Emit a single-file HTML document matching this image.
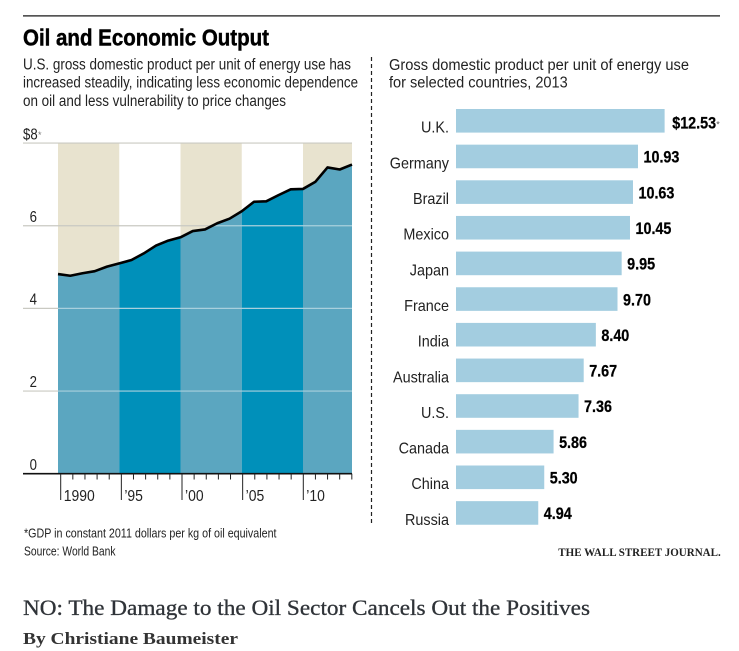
<!DOCTYPE html>
<html lang="en">
<head>
<meta charset="utf-8">
<title>Oil and Economic Output</title>
<style>
html,body{margin:0;padding:0;background:#fff;width:739px;height:651px;overflow:hidden}
svg{display:block}
text{font-family:"Liberation Sans",Arial,sans-serif;fill:#222}
.serif{font-family:"Liberation Serif","Times New Roman",serif}
</style>
</head>
<body>
<svg id="chart" xmlns="http://www.w3.org/2000/svg" width="739" height="651" viewBox="0 0 739 651">
  <rect x="0" y="0" width="739" height="651" fill="#fff"/>
  <rect x="23" y="15" width="697" height="1.7" fill="#555"/>
  <text x="23" y="45.5" font-size="23" font-weight="bold" style="fill:#000;stroke:#000;stroke-width:.45" textLength="246" lengthAdjust="spacingAndGlyphs">Oil and Economic Output</text>
  <text x="23" y="69.5" font-size="15.5" textLength="328" lengthAdjust="spacingAndGlyphs">U.S. gross domestic product per unit of energy use has</text>
  <text x="23" y="87.5" font-size="15.5" textLength="335" lengthAdjust="spacingAndGlyphs">increased steadily, indicating less economic dependence</text>
  <text x="23" y="106" font-size="15.5" textLength="263" lengthAdjust="spacingAndGlyphs">on oil and less vulnerability to price changes</text>

  <g id="area-chart"></g>
  <g id="y-labels"></g>
  <g id="x-axis"></g>

  <text x="24" y="537.7" font-size="12.5" textLength="252.5" lengthAdjust="spacingAndGlyphs">*GDP in constant 2011 dollars per kg of oil equivalent</text>
  <text x="24" y="555.7" font-size="12.5" textLength="91.5" lengthAdjust="spacingAndGlyphs">Source: World Bank</text>

  <line x1="371.5" y1="57" x2="371.5" y2="524" stroke="#222" stroke-width="1.2" stroke-dasharray="4 3"/>

  <text x="389" y="70" font-size="15.5" textLength="300" lengthAdjust="spacingAndGlyphs">Gross domestic product per unit of energy use</text>
  <text x="389" y="87.7" font-size="15.5" textLength="178.7" lengthAdjust="spacingAndGlyphs">for selected countries, 2013</text>

  <g id="bar-chart"></g>

  <text class="serif" x="558.3" y="556" font-size="11.5" font-weight="bold" textLength="162.4" lengthAdjust="spacingAndGlyphs">THE WALL STREET JOURNAL.</text>
  <text class="serif" x="23" y="615" font-size="22.5" style="fill:#2f3338;stroke:#2f3338;stroke-width:.3" textLength="567" lengthAdjust="spacingAndGlyphs">NO: The Damage to the Oil Sector Cancels Out the Positives</text>
  <text class="serif" x="23" y="644" font-size="17" font-weight="bold" style="fill:#333" textLength="215" lengthAdjust="spacingAndGlyphs">By Christiane Baumeister</text>
</svg>
<script>
var gdpYears = [1990,1991,1992,1993,1994,1995,1996,1997,1998,1999,2000,2001,2002,2003,2004,2005,2006,2007,2008,2009,2010,2011,2012,2013,2014];
var gdpValues = [4.83,4.79,4.85,4.90,5.01,5.09,5.17,5.33,5.52,5.64,5.72,5.87,5.91,6.06,6.17,6.35,6.58,6.59,6.74,6.88,6.89,7.06,7.41,7.36,7.48];
var yTicks = [0,2,4,6,8];
var yTickLabels = ['0','2','4','6','$8'];
var bandYears = [1990,1995,2000,2005,2010,2014];
var xMajorYears = [1990,1995,2000,2005,2010];
var xMajorLabels = ['1990','\u201995','\u201900','\u201905','\u201910'];
var countries = ['U.K.','Germany','Brazil','Mexico','Japan','France','India','Australia','U.S.','Canada','China','Russia'];
var countryValues = [12.53,10.93,10.63,10.45,9.95,9.70,8.40,7.67,7.36,5.86,5.30,4.94];

var NS = 'http://www.w3.org/2000/svg';
function make(parent, tag, attrs) {
  var el = document.createElementNS(NS, tag);
  for (var k in attrs) { el.setAttribute(k, attrs[k]); }
  parent.appendChild(el);
  return el;
}
function xScale(year) { return 58 + (year - 1990) * 12.25; }
function yScale(v) { return 473.7 - v * 41.33; }
function tickX(year) { return 60.7 + (year - 1990) * 12.13; }

var area = document.getElementById('area-chart');
var defs = make(area, 'defs', {});
var clip = make(defs, 'clipPath', { id: 'under-line' });
var pts = gdpYears.map(function (yr, i) { return xScale(yr) + ',' + yScale(gdpValues[i]); });
var lastX = xScale(gdpYears[gdpYears.length - 1]);
var firstX = xScale(gdpYears[0]);
make(clip, 'polygon', { points: firstX + ',' + yScale(0) + ' ' + pts.join(' ') + ' ' + lastX + ',' + yScale(0) });

// Background and filled period bands
for (var b = 0; b < bandYears.length - 1; b++) {
  var bx = xScale(bandYears[b]);
  var bw = xScale(bandYears[b + 1]) - bx;
  if (b % 2 === 0) {
    var bg = make(area, 'rect', { x: bx, y: yScale(8), width: bw, height: yScale(0) - yScale(8), fill: '#e8e3cf' });
    
    
  }
}

// Gridlines behind the area
yTicks.forEach(function (t) {
  if (t === 0) { return; }
  var g = make(area, 'line', { x1: 23, x2: lastX, y1: yScale(t), y2: yScale(t), stroke: '#c9c9c2', 'stroke-width': 1.2 });
  
  
});

var filled = make(area, 'g', { 'clip-path': 'url(#under-line)' });


for (var c = 0; c < bandYears.length - 1; c++) {
  var cx = xScale(bandYears[c]);
  var cw = xScale(bandYears[c + 1]) - cx;
  var band = make(filled, 'rect', { x: cx, y: yScale(8), width: cw, height: yScale(0) - yScale(8), fill: c % 2 === 0 ? '#5ba6c0' : '#0090ba' });
  
  
}
yTicks.forEach(function (t) {
  if (t === 0 || t === 8) { return; }
  var g = make(filled, 'line', { x1: firstX, x2: lastX, y1: yScale(t), y2: yScale(t), stroke: '#a9d0dd', 'stroke-width': 1.2 });
  
  
});

var line = make(area, 'polyline', { points: pts.join(' '), fill: 'none', stroke: '#000', 'stroke-width': 2.6, 'stroke-linejoin': 'round' });



// Y labels
var yLabelGroup = document.getElementById('y-labels');
yTicks.forEach(function (t, i) {
  var lab = make(yLabelGroup, 'text', { 'font-size': 15.5, 'text-anchor': t === 8 ? 'start' : 'end', transform: 'translate(' + (t === 8 ? 23 : 37) + ' ' + (yScale(t) - 3.8) + ') scale(.85 1)' });
  
  
  lab.textContent = yTickLabels[i];
  if (t === 8) {
    var star = make(yLabelGroup, 'text', { x: 38, y: yScale(t) - 5, 'font-size': 9, style: 'fill:#777' });
    
    
    star.textContent = '*';
  }
});

// X axis
var xAxis = document.getElementById('x-axis');
var axisLine = make(xAxis, 'line', { x1: 23, x2: 352, y1: yScale(0), y2: yScale(0), stroke: '#111', 'stroke-width': 1.6 });


for (var yr = 1990; yr <= 2014; yr++) {
  var major = xMajorYears.indexOf(yr) >= 0;
  var tk = make(xAxis, 'line', { x1: tickX(yr), x2: tickX(yr), y1: yScale(0), y2: major ? 500 : 479.5, stroke: '#222', 'stroke-width': 1 });
  
  
}
xMajorYears.forEach(function (yr, i) {
  var lab = make(xAxis, 'text', { x: tickX(yr) + 3, y: 501, 'font-size': 15.5, transform: 'translate(' + (tickX(yr) + 3) + ' 0) scale(.9 1) translate(' + (-(tickX(yr) + 3)) + ' 0)' });
  
  
  lab.textContent = xMajorLabels[i];
});

// Bars
var barGroup = document.getElementById('bar-chart');
function barX(v) { return 456 + v * 16.65; }
function barTop(i) { return 109 + i * 35.65; }
countries.forEach(function (name, i) {
  var v = countryValues[i];
  var bar = make(barGroup, 'rect', { x: barX(0), y: barTop(i), width: barX(v) - barX(0), height: 23.6, fill: '#a3cde0' });
  
  

  var labelY = barTop(i) + 23.7;
  var lab = make(barGroup, 'text', { 'font-size': 16, 'text-anchor': 'end', transform: 'translate(449 ' + labelY + ') scale(.9 1)' });
  
  
  lab.textContent = name;

  var valX = barX(v) + (i === 0 ? 7.6 : 5.5);
  var valY = barTop(i) + (i === 0 ? 19.3 : 18);
  var val = make(barGroup, 'text', { 'font-size': 16.5, 'font-weight': 'bold', style: 'fill:#000;stroke:#000;stroke-width:.25', transform: 'translate(' + valX + ' ' + valY + ') scale(.87 1)' });
  
  
  val.textContent = (i === 0 ? '$' : '') + v.toFixed(2);

  if (i === 0) {
    var st = make(barGroup, 'text', { x: valX + 44, y: valY - 1, 'font-size': 9, style: 'fill:#555' });
    
    
    st.textContent = '*';
  }
});
</script>
</body>
</html>
